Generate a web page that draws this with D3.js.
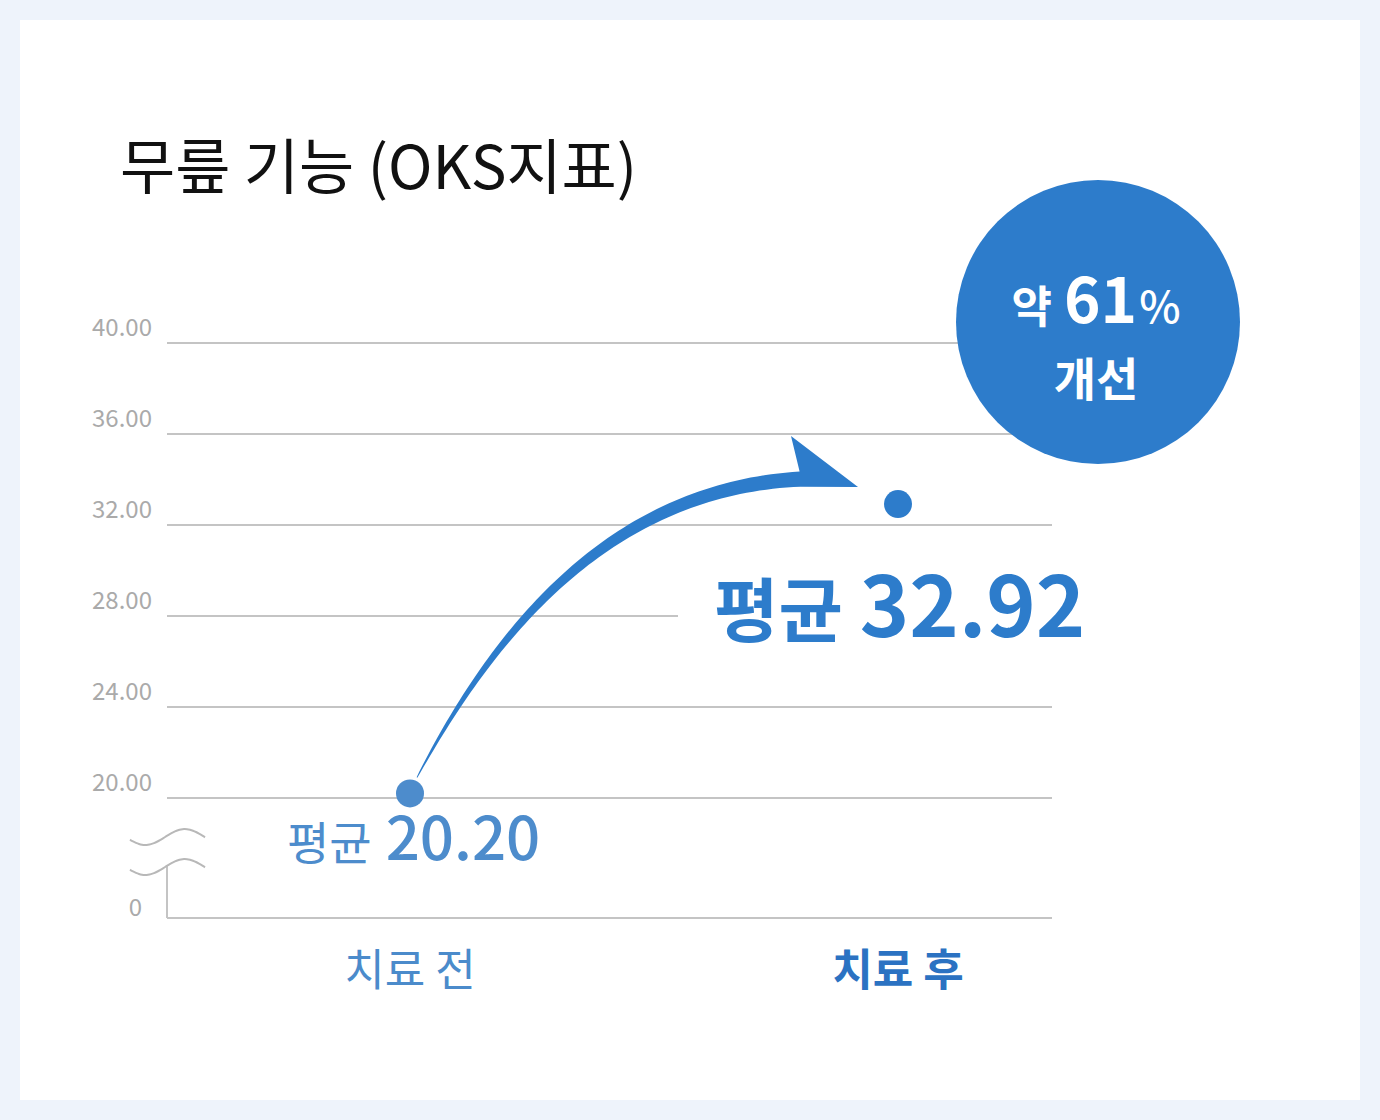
<!DOCTYPE html>
<html><head><meta charset="utf-8">
<script src="https://cdn.jsdelivr.net/npm/d3@7"></script>
<style>
html,body{margin:0;padding:0;background:#eef3fb;}
svg{display:block;font-family:"Noto Sans CJK KR","Noto Sans",sans-serif;}
</style></head>
<body>
<script>
const title = "무릎 기능 (OKS지표)";
const categories = ["치료 전", "치료 후"];
const values = [20.20, 32.92];
const tickValues = [20, 24, 28, 32, 36, 40];
const tickLabels = ["20.00", "24.00", "28.00", "32.00", "36.00", "40.00"];
const baseLabel = "0";
const improvement = ["약", "61", "%", "개선"];
const avgPrefix = "평균";

const W = 1380, H = 1120;
const svg = d3.select("body").append("svg").attr("width", W).attr("height", H);
svg.append("rect").attr("width", W).attr("height", H).attr("fill", "#eef3fb");
svg.append("rect").attr("x", 20).attr("y", 20).attr("width", 1340).attr("height", 1080).attr("fill", "#fff");

const left = 167, right = 1052, baseY = 918;
const y = d3.scaleLinear().domain([20, 40]).range([798, 343]);
const x = d3.scalePoint().domain(categories).range([410, 898]);

// title
svg.append("text").attr("x", 120).attr("y", 189).attr("font-size", 60).attr("font-weight", 400)
  .attr("fill", "#111").text(title);

// gridlines + tick labels
const g = svg.append("g");
g.selectAll("line.grid").data(tickValues).join("line")
  .attr("x1", left).attr("x2", right)
  .attr("y1", d => y(d)).attr("y2", d => y(d))
  .attr("stroke", "#c4c4c4").attr("stroke-width", 2);
g.selectAll("text.tick").data(tickValues).join("text")
  .attr("x", 152).attr("y", d => y(d) - 7).attr("text-anchor", "end")
  .attr("font-size", 24).attr("fill", "#aaaaaa").text((d, i) => tickLabels[i]);

// baseline and broken axis
g.append("line").attr("x1", left).attr("x2", right).attr("y1", baseY).attr("y2", baseY)
  .attr("stroke", "#c4c4c4").attr("stroke-width", 2);
g.append("line").attr("x1", left).attr("x2", left).attr("y1", 866).attr("y2", baseY)
  .attr("stroke", "#c4c4c4").attr("stroke-width", 2);
[0, 30].forEach(off => {
  const lineGen = d3.line().curve(d3.curveBasis);
  const pts = d3.range(0, 76, 3).map(i => [130 + i, 837 + off + 8 * Math.sin((i / 75) * 2 * Math.PI * 0.95 + 0.35)]);
  g.append("path").attr("d", lineGen(pts)).attr("fill", "none").attr("stroke", "#b8b8b8").attr("stroke-width", 2);
});
g.append("text").attr("x", 142).attr("y", 916).attr("text-anchor", "end")
  .attr("font-size", 24).attr("fill", "#aaaaaa").text(baseLabel);

// white backdrop behind the after label
const x1 = x(categories[0]), y1 = y(values[0]);
const x2 = x(categories[1]), y2 = y(values[1]);
svg.append("rect").attr("x", x2 - 220).attr("y", y2 + 50).attr("width", 400).attr("height", 100).attr("fill", "#fff");

// tapered arrow
const P0 = [x1 + 7, y1 - 16], P3 = [x2 - 98, y2 - 25];
const C1 = [P0[0] + 78, P0[1] - 147], C2 = [P3[0] - 190, P3[1] + 10];
function bez(t) {
  const a = (1 - t) ** 3, b = 3 * (1 - t) ** 2 * t, c = 3 * (1 - t) * t * t, d = t ** 3;
  return [a * P0[0] + b * C1[0] + c * C2[0] + d * P3[0], a * P0[1] + b * C1[1] + c * C2[1] + d * P3[1]];
}
function dbez(t) {
  const a = 3 * (1 - t) ** 2, b = 6 * (1 - t) * t, c = 3 * t * t;
  return [a * (C1[0] - P0[0]) + b * (C2[0] - C1[0]) + c * (P3[0] - C2[0]),
          a * (C1[1] - P0[1]) + b * (C2[1] - C1[1]) + c * (P3[1] - C2[1])];
}
const N = 80, upper = [], lower = [];
for (let i = 0; i <= N; i++) {
  const t = i / N, p = bez(t), dv = dbez(t), len = Math.hypot(dv[0], dv[1]);
  const nx = dv[1] / len, ny = -dv[0] / len;
  const w = 0.4 + 7.2 * Math.pow(t, 0.75);
  upper.push([p[0] + nx * w, p[1] + ny * w]);
  lower.push([p[0] - nx * w, p[1] - ny * w]);
}
const head = [[x2 - 107, y2 - 68], [x2 - 40, y2 - 17]];
const poly = upper.concat(head, lower.reverse());
svg.append("path").attr("d", "M" + poly.map(p => p.join(",")).join("L") + "Z").attr("fill", "#2d7ccb");

// dots
svg.append("circle").attr("cx", x1).attr("cy", y1).attr("r", 14).attr("fill", "#4d8ccc");
svg.append("circle").attr("cx", x2).attr("cy", y2).attr("r", 14).attr("fill", "#2d7ccb");

// value labels
const t1 = svg.append("text").attr("x", x1 - 123).attr("y", 860).attr("fill", "#4d8ccc");
t1.append("tspan").attr("font-size", 46).attr("font-weight", 400).text(avgPrefix);
t1.append("tspan").attr("dx", 14).attr("font-size", 60).attr("font-weight", 500).text(values[0].toFixed(2));

const t2 = svg.append("text").attr("x", x2 - 184).attr("y", y2 + 133).attr("fill", "#2d7ccb");
t2.append("tspan").attr("font-size", 70).attr("font-weight", 700).text(avgPrefix);
t2.append("tspan").attr("dx", 17).attr("font-size", 84).attr("font-weight", 700).text(values[1].toFixed(2));

// category labels
svg.selectAll("text.cat").data(categories).join("text")
  .attr("x", d => x(d)).attr("y", 986).attr("text-anchor", "middle")
  .attr("font-size", 44)
  .attr("font-weight", (d, i) => i === 1 ? 700 : 400)
  .attr("fill", (d, i) => i === 1 ? "#2b72c2" : "#4b8bcb")
  .text(d => d);

// improvement bubble
const cx = 1098, cy = 322;
svg.append("circle").attr("cx", cx).attr("cy", cy).attr("r", 142).attr("fill", "#2d7ccb");
const b1 = svg.append("text").attr("x", cx - 2).attr("y", 323).attr("text-anchor", "middle").attr("fill", "#fff");
b1.append("tspan").attr("font-size", 44).attr("font-weight", 700).text(improvement[0]);
b1.append("tspan").attr("dx", 12).attr("font-size", 62).attr("font-weight", 700).text(improvement[1]);
b1.append("tspan").attr("dx", 2).attr("font-size", 44).attr("font-weight", 500).text(improvement[2]);
svg.append("text").attr("x", cx - 2).attr("y", 396).attr("text-anchor", "middle").attr("fill", "#fff")
  .attr("font-size", 46).attr("font-weight", 700).text(improvement[3]);
</script>
</body></html>
